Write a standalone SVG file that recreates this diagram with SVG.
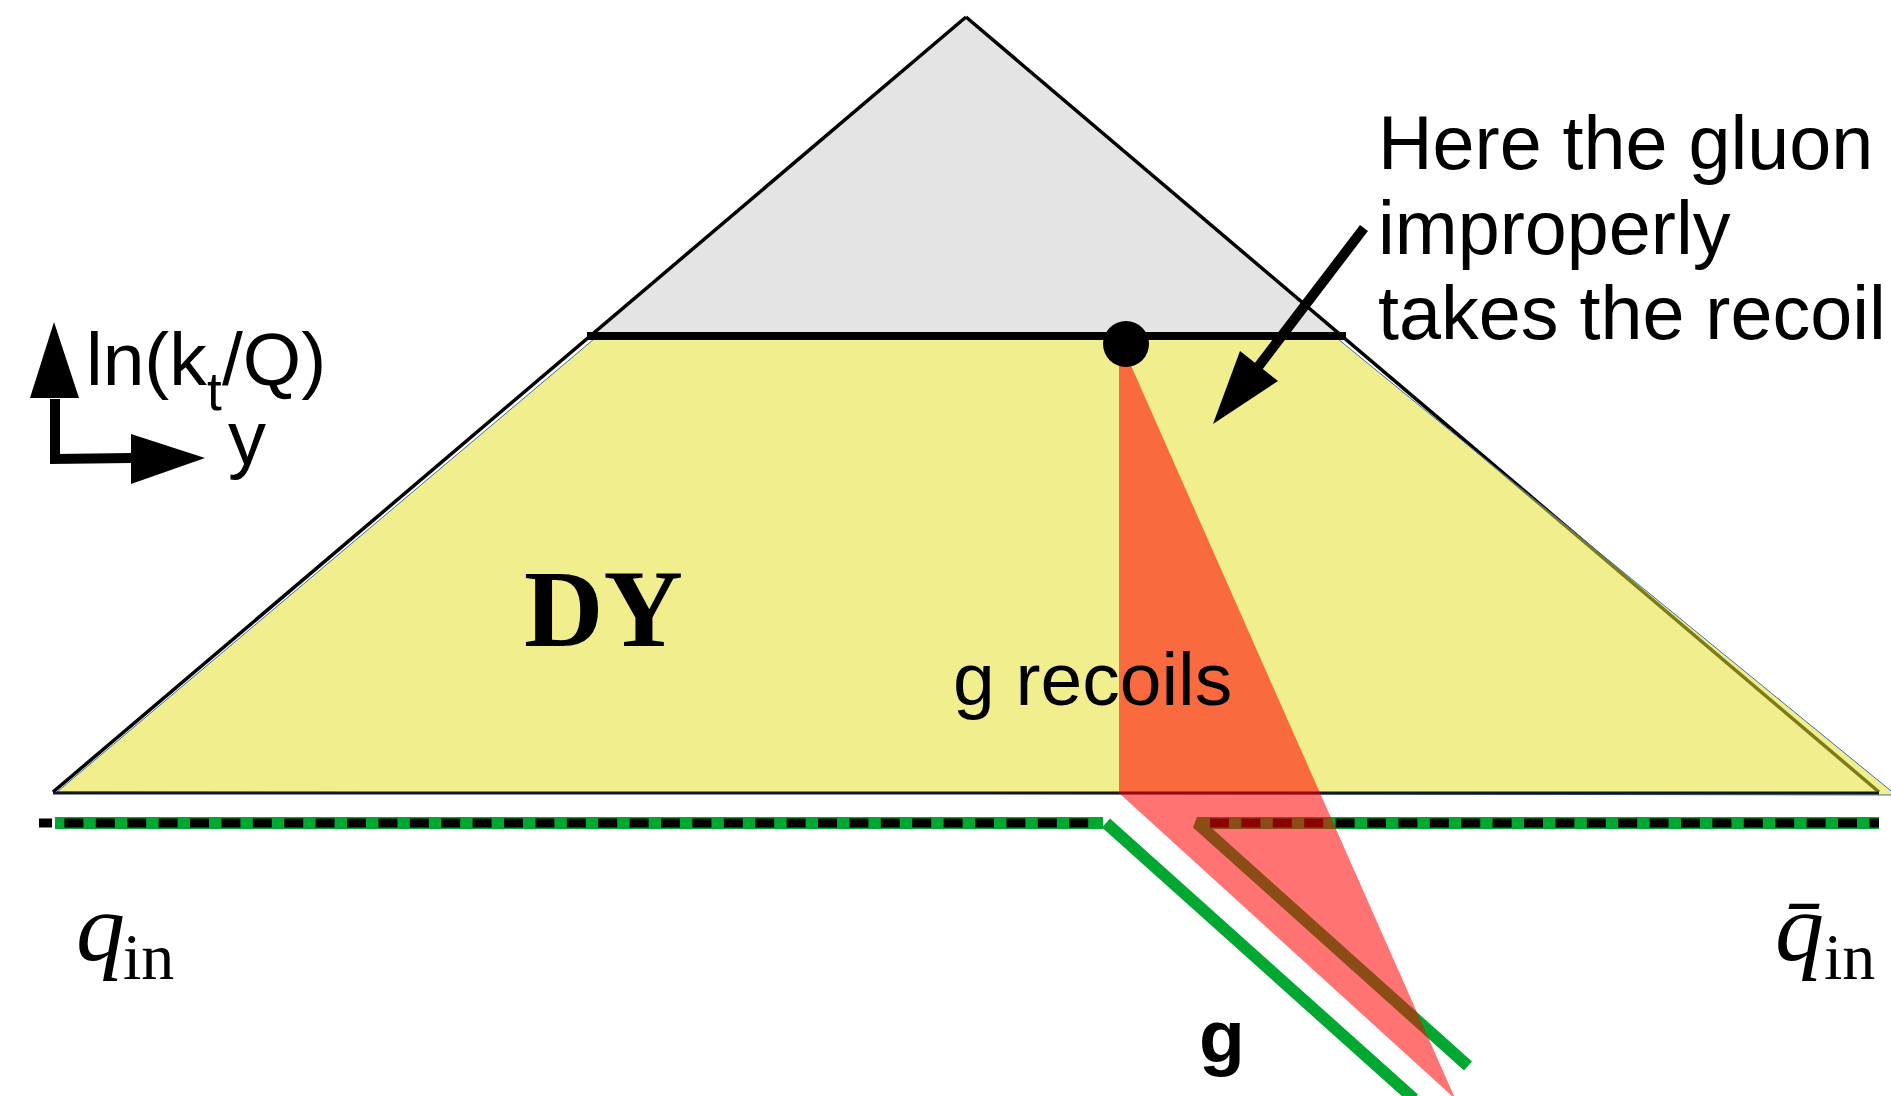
<svg xmlns="http://www.w3.org/2000/svg" width="1891" height="1096" viewBox="0 0 1891 1096">
  <style>
    .sans { font-family: "Liberation Sans", Arial, sans-serif; fill: #000; }
    .serif { font-family: "Liberation Serif", "Times New Roman", serif; fill: #000; }
    .green { stroke: #00a832; stroke-width: 12; fill: none; }
    .dash { stroke: #000; stroke-width: 9; stroke-dasharray: 19 12.4; fill: none; }
    .edge { stroke: #000; stroke-width: 3.5; fill: none; }
  </style>
  <rect width="1891" height="1096" fill="#fff"/>

  <g id="upper-region">
    <polygon points="966,17 589,337 1345,337" fill="#e4e4e4"/>
  </g>
  <g id="outline">
    <line class="edge" x1="966" y1="17" x2="53" y2="792"/>
    <line class="edge" x1="966" y1="17" x2="1879" y2="792"/>
  </g>
  <g id="dy-region">
    <polygon points="594,339 1338,339 1896,795 57,792" fill="#e6e030" fill-opacity="0.55" stroke="#3a6ea5" stroke-width="1"/>
    <line x1="53" y1="793" x2="1879" y2="793" stroke="#141828" stroke-width="3"/>
    <text class="serif" x="524" y="646" font-size="110" font-weight="bold">DY</text>
  </g>

  <g id="connectors">
    <!-- incoming quark line (left) -->
    <line class="green" x1="55" y1="823" x2="1103" y2="823"/>
    <line class="green" x1="1106" y1="823" x2="1414" y2="1099"/>
    <line class="dash" x1="39" y1="823" x2="1100" y2="823" stroke-dashoffset="6"/>
    <!-- incoming antiquark line (right) -->
    <path class="green" d="M1879,823 H1197 L1468,1066" stroke-linejoin="bevel"/>
    <line class="dash" x1="1210" y1="823" x2="1879" y2="823"/>
    <!-- axes -->
    <polyline points="55,399 55,459 132,458" fill="none" stroke="#000" stroke-width="10"/>
    <polygon points="54,322 30,398 79,398" fill="#000"/>
    <polygon points="131,434 131,484 205,458" fill="#000"/>
    <!-- annotation arrow -->
    <line x1="1364" y1="228" x2="1255" y2="371" stroke="#000" stroke-width="10"/>
    <polygon points="1213,424 1240,351 1278,381" fill="#000"/>
  </g>

  <g id="recoil-region">
    <polygon points="1119,352 1125,352 1454,1096 1452,1096 1119,793" fill="#ff0000" fill-opacity="0.55"/>
    <text class="sans" x="953" y="705" font-size="75">g recoils</text>
  </g>

  <g id="emission-line">
    <line x1="587" y1="336" x2="1346" y2="336" stroke="#000" stroke-width="8"/>
    <circle cx="1126" cy="344" r="23" fill="#000"/>
  </g>

  <g id="axis-labels">
    <text class="sans" font-size="75" y="385"><tspan x="86">ln(k</tspan><tspan x="207" y="410" font-size="53">t</tspan><tspan x="222" y="385">/Q)</tspan></text>
    <text class="sans" x="228" y="464" font-size="76">y</text>
  </g>

  <g id="annotation">
    <text class="sans" font-size="75.5"><tspan x="1378" y="169">Here the gluon</tspan><tspan x="1378" y="254">improperly</tspan><tspan x="1378" y="339">takes the recoil</tspan></text>
  </g>

  <g id="labels">
    <text class="serif" y="960" font-size="98" font-style="italic" x="76">q</text>
    <text class="serif" x="123" y="979" font-size="66">in</text>
    <text class="serif" y="960" font-size="98" font-style="italic" x="1775">q̄</text>
    <text class="serif" x="1824" y="979" font-size="66">in</text>
    <text class="sans" x="1199" y="1062" font-size="75" font-weight="bold">g</text>
  </g>
</svg>
